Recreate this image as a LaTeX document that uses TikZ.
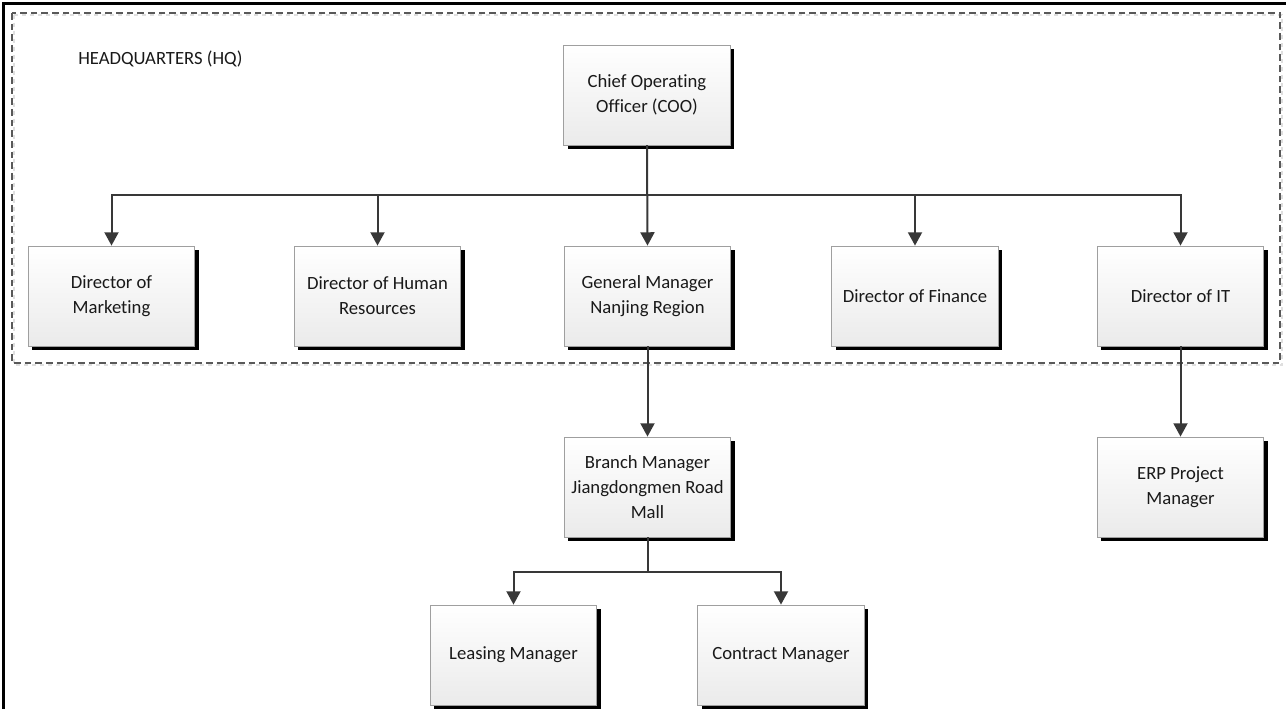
\documentclass[tikz,border=0pt]{standalone}
\usepackage{fontspec}
\setmainfont{Carlito}[Ligatures=NoCommon]
\usepackage{tikz}
\usetikzlibrary{arrows.meta, shadows}

\begin{document}
\begin{tikzpicture}[x=0.75pt, y=-0.75pt,
    box/.style={draw=gray!75, line width=0.6pt, top color=white, bottom color=gray!16,
        minimum width=125pt, minimum height=75pt, align=center, inner sep=2pt,
        font=\fontsize{14}{18.75}\selectfont, text=black!90,
        drop shadow={shadow xshift=3pt, shadow yshift=-3pt, fill=black, opacity=1}},
    conn/.style={draw=black!78, line width=1.5pt, -{Triangle[width=10.5pt, length=10pt]}}]
    \useasboundingbox (0,0) rectangle (1286,709);

    % Frame
    \draw[line width=1.6pt] (3.5,709) -- (3.5,3.5) -- (1286,3.5);
    \draw[gray!25, line width=0.8pt, dashed] (14,15) rectangle (1282,365);
    \draw[black!65, line width=1pt, dash pattern=on 5pt off 3pt] (12,13) rectangle (1280,363);
    \node[anchor=base west, inner sep=0pt, font=\fontsize{14}{18.75}\selectfont, text=black!90]
        (hq) at (78,65) {HEADQUARTERS (HQ)};

    % Top
    \node[box] (coo) at (647,95) {Chief Operating\\Officer (COO)};

    % Directors
    \node[box] (mkt) at (111.5,296) {Director of\\Marketing};
    \node[box] (hr) at (377.5,296) {Director of Human\\Resources};
    \node[box] (gm) at (647.5,296) {General Manager\\Nanjing Region};
    \node[box] (fin) at (915,296) {Director of Finance};
    \node[box] (it) at (1180.5,296) {Director of IT};

    % Below HQ
    \node[box] (branch) at (647.5,487) {Branch Manager\\Jiangdongmen Road\\Mall};
    \node[box] (erp) at (1180.5,487) {ERP Project\\Manager};
    \node[box] (lease) at (513.5,655) {Leasing Manager};
    \node[box] (contract) at (781,655) {Contract Manager};

    \draw[conn] (coo.south) -- ++(0,50) -| (mkt.north);
    \draw[conn] (coo.south) -- ++(0,50) -| (hr.north);
    \draw[conn] (coo.south) -- (gm.north);
    \draw[conn] (coo.south) -- ++(0,50) -| (fin.north);
    \draw[conn] (coo.south) -- ++(0,50) -| (it.north);
    \draw[conn] (gm.south) -- (branch.north);
    \draw[conn] (it.south) -- (erp.north);
    \draw[conn] (branch.south) -- ++(0,35) -| (lease.north);
    \draw[conn] (branch.south) -- ++(0,35) -| (contract.north);
\end{tikzpicture}
\end{document}
